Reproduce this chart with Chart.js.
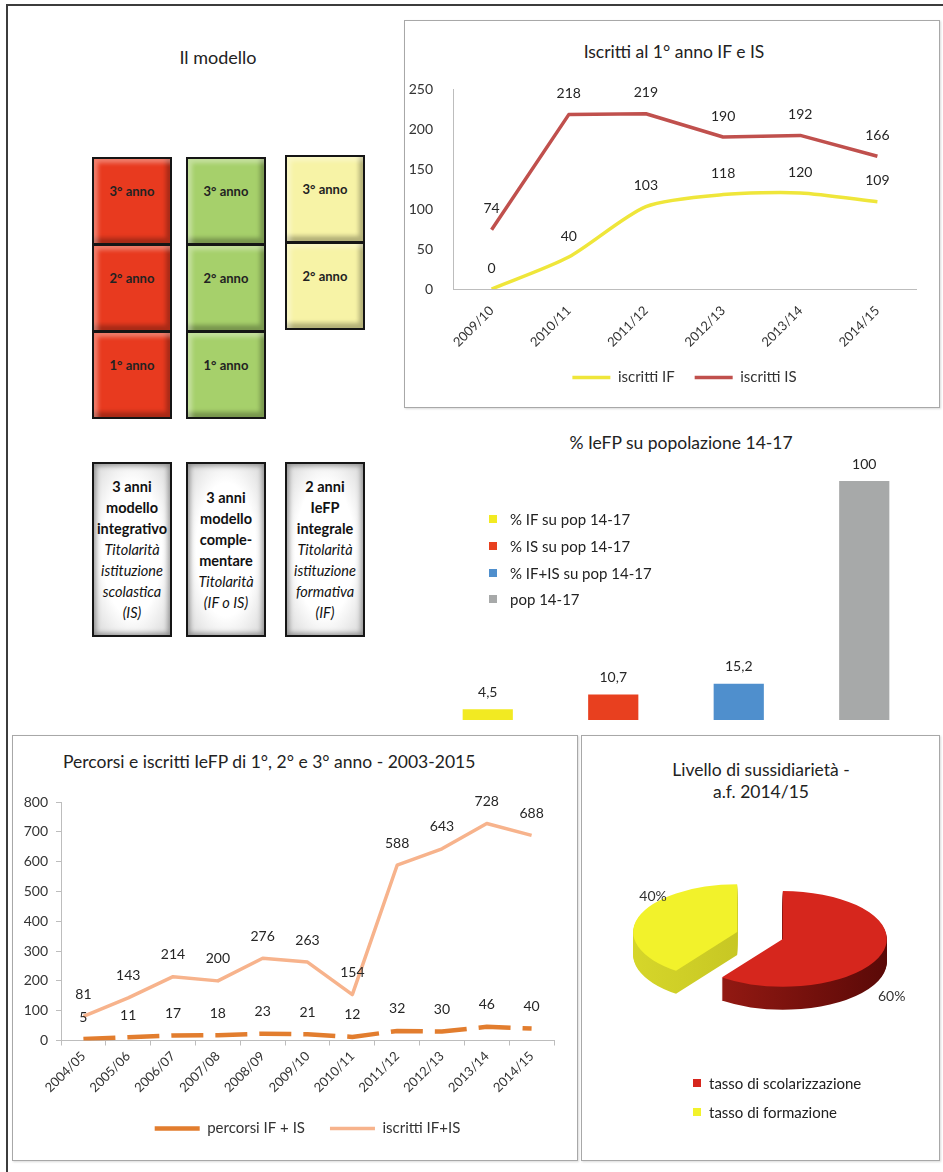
<!DOCTYPE html>
<html lang="it">
<head>
<meta charset="utf-8">
<title>IeFP - modello, iscritti e percorsi</title>
<script src="https://cdn.jsdelivr.net/npm/chart.js@4.4.1/dist/chart.umd.min.js"></script>
<style>
  html, body { margin: 0; padding: 0; background: #fff; overflow: hidden; }
  body { width: 943px; height: 1172px; position: relative; font-family: Lato, "Open Sans", sans-serif; color: #222; }
  #cornice { position: absolute; left: 6px; top: 4px; width: 990px; height: 1230px; border: 2px solid #3c3c3c; box-sizing: border-box; }
  .riquadro { position: absolute; border: 1px solid #a8a8a8; box-sizing: border-box; box-shadow: 1px 1px 2px rgba(0,0,0,0.15); background: #fff; }
  .titolo { position: absolute; font-size: 17.5px; line-height: 22px; white-space: nowrap; color: #222; }
  .tessera { position: absolute; width: 80px; height: 88px; box-sizing: border-box; border: 2px solid #151515;
             font-weight: bold; font-size: 13px; text-align: center; padding-top: 24px;
             box-shadow: inset 4px 4px 4px rgba(255,255,255,.35), inset -4px -5px 4px rgba(0,0,0,.28); }
  .rosso { background: #e83a1f; }
  .verde { background: #a6d06b; }
  .giallo { background: #f7f3a6; }
  .scheda { position: absolute; top: 462px; width: 80px; height: 175px; box-sizing: border-box; border: 2px solid #151515;
            background: radial-gradient(ellipse at center, #fff 55%, #d6d6d6 100%);
            box-shadow: inset 0 0 5px 2px rgba(0,0,0,.35);
            display: flex; flex-direction: column; justify-content: center; align-items: center;
            font-size: 14.5px; line-height: 21px; text-align: center; color: #111; }
  .scheda b { font-weight: bold; }
  .scheda i { font-style: italic; }
  canvas { position: absolute; }
  .legenda { position: absolute; font-size: 15px; color: #222; }
  .legenda div { display: flex; align-items: center; white-space: nowrap; }
  .legenda span { width: 8px; height: 8px; display: inline-block; margin-right: 13px; }
</style>
</head>
<body>
<div id="cornice"></div>

<!-- il modello -->
<div class="titolo" style="left:118px; width:200px; top:46px; text-align:center; font-size:18px;">Il modello</div>

<div class="tessera rosso" style="left:92px; top:157px;">3° anno</div>
<div class="tessera rosso" style="left:92px; top:244px;">2° anno</div>
<div class="tessera rosso" style="left:92px; top:331px;">1° anno</div>
<div class="tessera verde" style="left:186px; top:157px;">3° anno</div>
<div class="tessera verde" style="left:186px; top:244px;">2° anno</div>
<div class="tessera verde" style="left:186px; top:331px;">1° anno</div>
<div class="tessera giallo" style="left:285px; top:155px;">3° anno</div>
<div class="tessera giallo" style="left:285px; top:242px;">2° anno</div>

<div class="scheda" style="left:92px;"><b>3 anni</b><b>modello</b><b>integrativo</b><i>Titolarità</i><i>istituzione</i><i>scolastica</i><i>(IS)</i></div>
<div class="scheda" style="left:186px;"><b>3 anni</b><b>modello</b><b>comple-</b><b>mentare</b><i>Titolarità</i><i>(IF o IS)</i></div>
<div class="scheda" style="left:285px;"><b>2 anni</b><b>IeFP</b><b>integrale</b><i>Titolarità</i><i>istituzione</i><i>formativa</i><i>(IF)</i></div>

<!-- iscritti al 1° anno -->
<div class="riquadro" style="left:404px; top:20px; width:536px; height:388px;"></div>
<div class="titolo" style="left:524px; width:300px; top:41px; text-align:center;">Iscritti al 1° anno IF e IS</div>
<canvas id="graficoPrimo" width="534" height="386" style="left:405px; top:21px;"></canvas>

<!-- % su popolazione 14-17 -->
<div class="titolo" style="left:531px; width:300px; top:432px; text-align:center;">% IeFP su popolazione 14-17</div>
<canvas id="graficoPop" width="534" height="275" style="left:405px; top:455px;"></canvas>
<div class="legenda" id="legendaPop" style="left:489px; top:506px;"></div>

<!-- percorsi e iscritti -->
<div class="riquadro" style="left:12px; top:735px; width:566px; height:426px;"></div>
<div class="titolo" style="left:63px; top:751px;">Percorsi e iscritti IeFP di 1°, 2° e 3° anno - 2003-2015</div>
<canvas id="graficoIeFP" width="564" height="424" style="left:13px; top:736px;"></canvas>

<!-- sussidiarietà -->
<div class="riquadro" style="left:581px; top:735px; width:359px; height:426px;"></div>
<div class="titolo" style="left:611px; width:300px; top:759px; text-align:center;">Livello di sussidiarietà -<br>a.f. 2014/15</div>
<canvas id="graficoTorta" width="356" height="291" style="left:582px; top:790px;"></canvas>
<div class="legenda" id="legendaTorta" style="left:693px; top:1068px;"></div>

<script>
// iscritti al 1° anno
const anniPrimo = ['2009/10', '2010/11', '2011/12', '2012/13', '2013/14', '2014/15'];
const iscrittiIF = [0, 40, 103, 118, 120, 109];
const iscrittiIS = [74, 218, 219, 190, 192, 166];

// quote sulla popolazione 14-17
const vociPop = ['% IF su pop 14-17', '% IS su pop 14-17', '% IF+IS su pop 14-17', 'pop 14-17'];
const quotePop = [4.5, 10.7, 15.2, 100];

// percorsi e iscritti di 1°, 2° e 3° anno
const anniIeFP = ['2004/05', '2005/06', '2006/07', '2007/08', '2008/09', '2009/10',
                  '2010/11', '2011/12', '2012/13', '2013/14', '2014/15'];
const percorsiIFIS = [5, 11, 17, 18, 23, 21, 12, 32, 30, 46, 40];
const iscrittiIFIS = [81, 143, 214, 200, 276, 263, 154, 588, 643, 728, 688];

// livello di sussidiarietà
const vociSussidiarieta = ['tasso di scolarizzazione', 'tasso di formazione'];
const tassiSussidiarieta = [60, 40];

const coloriPop = ['#f2ea22', '#e8401f', '#4f8fcd', '#a7a9a9'];
const coloriTorta = ['#d6261d', '#f2f22b'];
const fianchiTorta = [['#a11d15', '#520706'], ['#d6d62a', '#b5b51c']];

Chart.defaults.font.family = 'Lato, "Open Sans", sans-serif';
Chart.defaults.color = '#333';

const fmt = new Intl.NumberFormat('it-IT');

// scrive il valore sopra ogni punto / barra
const etichette = {
  id: 'etichette',
  afterDatasetsDraw(chart, args, opts) {
    const { ctx } = chart;
    ctx.save();
    ctx.font = (opts.size || 14) + 'px Lato, sans-serif';
    ctx.fillStyle = '#262626';
    ctx.textAlign = 'center';
    ctx.textBaseline = 'middle';
    chart.data.datasets.forEach((ds, i) => {
      chart.getDatasetMeta(i).data.forEach((el, j) => {
        ctx.fillText(fmt.format(ds.data[j]), el.x, el.y - opts.offset);
      });
    });
    ctx.restore();
  }
};

// torta "3D": schiacciata, con spessore e spicchi staccati
const torta3d = {
  id: 'torta3d',
  beforeDatasetsDraw(chart, args, opts) {
    const { ctx } = chart;
    const arcs = chart.getDatasetMeta(0).data;
    const disegna = (arc, dy, fill) => {
      const mid = (arc.startAngle + arc.endAngle) / 2;
      const keep = arc.options.backgroundColor;
      ctx.save();
      ctx.translate(arc.x, arc.y + dy);
      ctx.scale(1, opts.tilt);
      ctx.translate(-arc.x + Math.cos(mid) * opts.explode, -arc.y + Math.sin(mid) * opts.explode);
      if (fill) arc.options.backgroundColor = fill;
      arc.draw(ctx);
      arc.options.backgroundColor = keep;
      ctx.restore();
    };
    const fianchi = arcs.map((arc, i) => {
      const g = ctx.createLinearGradient(arc.x - arc.outerRadius, 0, arc.x + arc.outerRadius + opts.explode, 0);
      g.addColorStop(0, fianchiTorta[i][0]);
      g.addColorStop(1, fianchiTorta[i][1]);
      return g;
    });
    for (let d = opts.depth; d > 0; d--) {
      arcs.forEach((arc, i) => disegna(arc, d, fianchi[i]));
    }
    arcs.forEach(arc => disegna(arc, 0));
    return false;
  },
  afterDraw(chart, args, opts) {
    const { ctx } = chart;
    const arcs = chart.getDatasetMeta(0).data;
    const valori = chart.data.datasets[0].data;
    ctx.save();
    ctx.font = '14px Lato, sans-serif';
    ctx.fillStyle = '#333';
    ctx.textAlign = 'center';
    ctx.textBaseline = 'middle';
    arcs.forEach((arc, i) => {
      const mid = (arc.startAngle + arc.endAngle) / 2;
      const basso = Math.sin(mid) > 0;
      // fuori dal bordo per lo spicchio in basso, più all'interno per quello in alto
      const rr = arc.outerRadius * (basso ? 1.1 : 0.85) + opts.explode;
      const x = arc.x + Math.cos(mid) * rr;
      let y = arc.y + Math.sin(mid) * rr * opts.tilt;
      y += basso ? opts.depth + 18 : -23;
      ctx.fillText(valori[i] + '%', x, y);
    });
    ctx.restore();
  }
};

const assi = '#bdbdbd';

new Chart(document.getElementById('graficoPrimo'), {
  type: 'line',
  data: {
    labels: anniPrimo,
    datasets: [
      { label: 'iscritti IF', data: iscrittiIF, borderColor: '#efe63a', backgroundColor: '#efe63a',
        borderWidth: 3.5, tension: 0.25, pointRadius: 0, borderJoinStyle: 'round' },
      { label: 'iscritti IS', data: iscrittiIS, borderColor: '#c0504d', backgroundColor: '#c0504d',
        borderWidth: 3.5, tension: 0, pointRadius: 0, borderJoinStyle: 'round' }
    ]
  },
  options: {
    responsive: false,
    animation: false,
    layout: { padding: { top: 68, right: 23, bottom: 12, left: 0 } },
    scales: {
      x: {
        offset: true,
        grid: { display: false },
        border: { color: assi },
        ticks: { minRotation: 45, maxRotation: 45, padding: 6, font: { size: 13 } },
        afterFit: s => { s.height = 61; }
      },
      y: {
        min: 0, max: 250,
        grid: { display: false },
        border: { color: assi },
        ticks: { stepSize: 50, padding: 12, font: { size: 14 } },
        afterFit: s => { s.width = 48; }
      }
    },
    plugins: {
      legend: {
        position: 'bottom',
        fullSize: false,
        labels: { usePointStyle: true, pointStyle: 'line', pointStyleWidth: 38, padding: 20, font: { size: 15 }, color: '#333' }
      },
      tooltip: { enabled: false },
      etichette: { offset: 21 }
    }
  },
  plugins: [etichette]
});

new Chart(document.getElementById('graficoPop'), {
  type: 'bar',
  data: {
    labels: vociPop,
    datasets: [{ data: quotePop, backgroundColor: coloriPop, categoryPercentage: 1, barPercentage: 0.4 }]
  },
  options: {
    responsive: false,
    animation: false,
    layout: { padding: { top: 26, right: 12, bottom: 10, left: 20 } },
    scales: {
      x: { display: false },
      y: { display: false, min: 0, max: 100 }
    },
    plugins: {
      legend: { display: false },
      tooltip: { enabled: false },
      etichette: { offset: 17 }
    }
  },
  plugins: [etichette]
});

new Chart(document.getElementById('graficoIeFP'), {
  type: 'line',
  data: {
    labels: anniIeFP,
    datasets: [
      { label: 'percorsi IF + IS', data: percorsiIFIS, borderColor: '#e27d2e', backgroundColor: '#e27d2e',
        borderWidth: 4.5, borderDash: [32, 12], tension: 0, pointRadius: 0 },
      { label: 'iscritti IF+IS', data: iscrittiIFIS, borderColor: '#f7b38c', backgroundColor: '#f7b38c',
        borderWidth: 3.5, tension: 0, pointRadius: 0, borderJoinStyle: 'round' }
    ]
  },
  options: {
    responsive: false,
    animation: false,
    layout: { padding: { top: 66, right: 23, bottom: 14, left: 0 } },
    scales: {
      x: {
        offset: true,
        grid: { offset: true, drawOnChartArea: false, tickLength: 5, color: assi },
        border: { color: assi },
        ticks: { minRotation: 45, maxRotation: 45, font: { size: 13 } },
        afterFit: s => { s.height = 55.5; }
      },
      y: {
        min: 0, max: 800,
        grid: { drawOnChartArea: false, tickLength: 5, color: assi },
        border: { color: assi },
        ticks: { stepSize: 100, padding: 8, font: { size: 14 } },
        afterFit: s => { s.width = 48; }
      }
    },
    plugins: {
      legend: {
        position: 'bottom',
        fullSize: false,
        labels: { usePointStyle: true, pointStyle: 'line', pointStyleWidth: 45, padding: 25, font: { size: 15 }, color: '#333' }
      },
      tooltip: { enabled: false },
      etichette: { offset: 22 }
    }
  },
  plugins: [etichette]
});

new Chart(document.getElementById('graficoTorta'), {
  type: 'pie',
  data: {
    labels: vociSussidiarieta,
    datasets: [{ data: tassiSussidiarieta, backgroundColor: coloriTorta, borderWidth: 0 }]
  },
  options: {
    responsive: false,
    animation: false,
    layout: { padding: { top: 41.5, bottom: 41.5, left: 20, right: 20 } },
    plugins: {
      legend: { display: false },
      tooltip: { enabled: false },
      torta3d: { tilt: 0.46, depth: 23, explode: 24 }
    }
  },
  plugins: [torta3d]
});

// legende disegnate a parte (voci in colonna)
function legenda(id, voci, colori, passo, stacco) {
  const box = document.getElementById(id);
  voci.forEach((v, i) => {
    const riga = document.createElement('div');
    riga.style.height = passo + 'px';
    const q = document.createElement('span');
    q.style.background = colori[i];
    q.style.marginRight = stacco + 'px';
    riga.appendChild(q);
    riga.appendChild(document.createTextNode(v));
    box.appendChild(riga);
  });
}
legenda('legendaPop', vociPop, coloriPop, 26.7, 13);
legenda('legendaTorta', vociSussidiarieta, coloriTorta, 29, 8);
</script>
</body>
</html>
